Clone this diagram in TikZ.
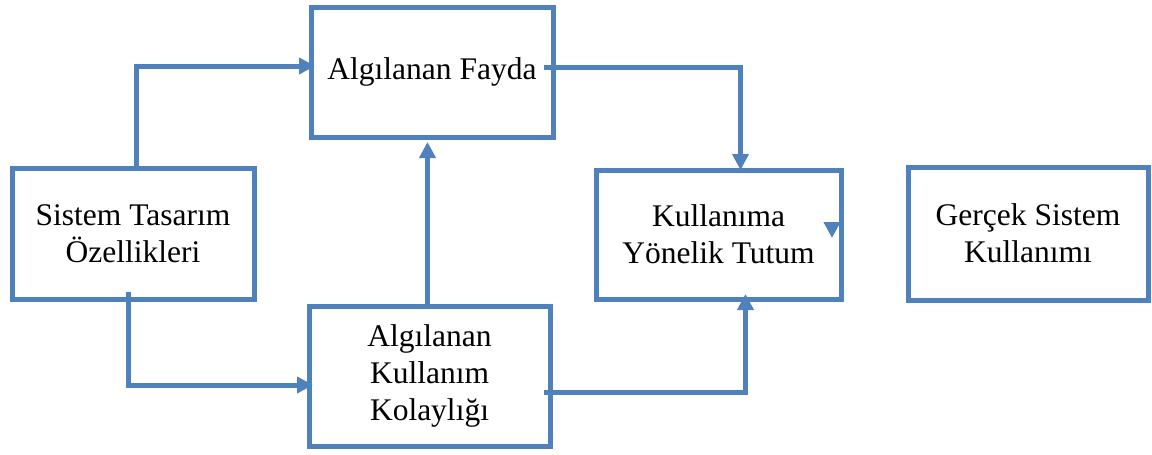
\documentclass[tikz,border=0pt]{standalone}
\usepackage{fontspec}
\setmainfont{Liberation Serif}
\usetikzlibrary{arrows.meta}
\definecolor{boxblue}{HTML}{4F81BD}
\begin{document}
\begin{tikzpicture}[x=1pt,y=-1pt,
  box/.style={draw=boxblue, line width=5pt, fill=white, rectangle, outer sep=0pt,
    inner sep=2pt, align=center, font=\fontsize{31.5}{37}\selectfont},
  conn/.style={draw=boxblue, line width=5pt,
    -{Triangle[length=16pt,width=16pt]}}
]
\useasboundingbox (0,0) rectangle (1152,455);
\node[box, minimum width=242pt, minimum height=130pt] (fayda) at (432,72) {Algılanan Fayda};
\node[box, minimum width=242pt, minimum height=131pt] (sistem) at (133,233.5) {Sistem Tasarım\\Özellikleri};
\node[box, minimum width=241pt, minimum height=140pt] (kol) at (429.5,376) {Algılanan\\Kullanım\\Kolaylığı};
\node[box, minimum width=245pt, minimum height=129pt] (kul) at (718.5,234.5) {Kullanıma\\Yönelik Tutum};
\node[box, minimum width=240pt, minimum height=133pt] (gercek) at (1028,233.5) {Gerçek Sistem\\Kullanımı};

\draw[conn, shorten >=-4pt] ([xshift=3pt]sistem.north) |- ([yshift=6pt]fayda.west);
\draw[conn, shorten >=-4pt] ([xshift=-5pt,yshift=7pt]sistem.south) |- ([yshift=-9pt]kol.west);
\draw[conn, shorten >=5pt] ([xshift=-2pt]kol.north) -- ([xshift=-2pt]kol.north |- fayda.south);
\draw[conn] ([xshift=-9pt,yshift=5pt]fayda.east) -| ([xshift=22pt]kul.north);
\draw[conn, shorten >=-5pt] ([xshift=-6pt,yshift=-16pt]kol.east) -| ([xshift=27pt]kul.south);
\draw[conn] ([xshift=-9pt,yshift=13pt]kul.east) -- ([xshift=-9pt,yshift=-3.5pt]kul.east);
\end{tikzpicture}
\end{document}
